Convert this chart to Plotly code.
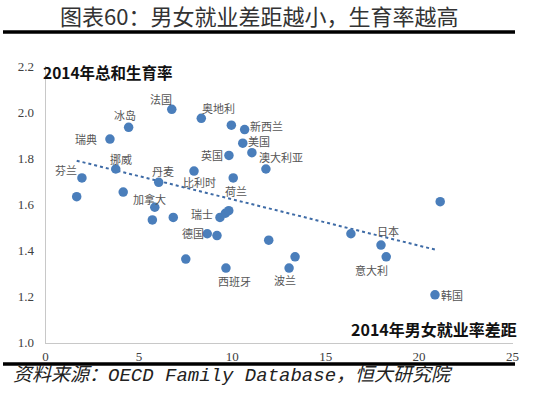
import plotly.graph_objects as go

W, H = 550, 397

# ---- data ----
gap = [6.76, 8.34, 4.45, 3.45, 9.95, 10.66, 10.56, 9.82, 11.05, 11.80,
       3.76, 1.95, 6.06, 7.95, 10.05, 1.67, 4.16, 5.85, 5.72, 6.84,
       9.34, 9.63, 9.81, 8.66, 9.18, 11.95, 7.51, 9.66,
       21.13, 16.35, 17.96, 18.24, 13.36, 13.04, 20.85]
tfr = [2.012, 1.973, 1.934, 1.883, 1.943, 1.924, 1.865, 1.812, 1.824, 1.753,
       1.753, 1.714, 1.695, 1.744, 1.714, 1.633, 1.653, 1.587, 1.532, 1.543,
       1.543, 1.561, 1.572, 1.472, 1.464, 1.444, 1.362, 1.323,
       1.611, 1.472, 1.423, 1.372, 1.372, 1.323, 1.207]
names = ["法国", "奥地利", "冰岛", "瑞典", "", "新西兰", "美国", "英国", "澳大利亚", "",
         "挪威", "芬兰", "丹麦", "比利时", "荷兰", "", "", "加拿大", "", "",
         "瑞士", "", "", "德国", "", "", "", "西班牙",
         "", "", "日本", "意大利", "", "波兰", "韩国"]
trend_x = [1.67, 20.96]
trend_y = [1.789, 1.401]
x_ticks = [0, 5, 10, 15, 20, 25]
y_ticks = [1.0, 1.2, 1.4, 1.6, 1.8, 2.0, 2.2]

# label offsets in pixels (dx right, dy down) relative to the point
label_offsets = {
    "法国": (-11, -10), "奥地利": (17, -10), "冰岛": (-4, -12), "瑞典": (-24, 0),
    "新西兰": (22, -4), "美国": (16, -2), "英国": (-17, 0), "澳大利亚": (29, 4),
    "挪威": (5, -10), "芬兰": (-16, -8), "丹麦": (4, -11), "比利时": (5, 11),
    "荷兰": (3, 13), "加拿大": (-5, -8), "瑞士": (-18, -3), "德国": (-14, -1),
    "西班牙": (9, 13), "日本": (7, -14), "意大利": (-15, 13), "波兰": (-4, 12),
    "韩国": (17, 0),
}

x0, x1 = 45.5, 512.5
y_top, y_bot = 66, 342.5

fig = go.Figure()
fig.add_trace(go.Scatter(
    x=trend_x, y=trend_y, mode="lines",
    line=dict(color="#3E6BA6", width=2, dash="dot"),
    hoverinfo="skip", showlegend=False))
fig.add_trace(go.Scatter(
    x=gap, y=tfr, mode="markers",
    marker=dict(color="#4A7EBB", size=9.5, line=dict(width=0)),
    showlegend=False))

ann = []
for xv, yv, nm in zip(gap, tfr, names):
    if not nm:
        continue
    dx, dy = label_offsets[nm]
    ann.append(dict(x=xv, y=yv, xref="x", yref="y", text=nm, showarrow=False,
                    xshift=dx, yshift=-dy,
                    font=dict(family="Noto Sans CJK SC", size=11, color="#555555")))

# titles / texts
ann.append(dict(x=259 / W, y=1 - 15 / H, xref="paper", yref="paper",
                text="图表60：男女就业差距越小，生育率越高", showarrow=False,
                xanchor="center", yanchor="middle",
                font=dict(family="Noto Sans CJK SC", size=22, color="#333333")))
ann.append(dict(x=41 / W, y=1 - 72 / H, xref="paper", yref="paper",
                text="<b>2014年总和生育率</b>", showarrow=False,
                xanchor="left", yanchor="middle",
                font=dict(family="Noto Sans CJK SC", size=15.5, color="#111111")))
ann.append(dict(x=519 / W, y=1 - 329 / H, xref="paper", yref="paper",
                text="<b>2014年男女就业率差距</b>", showarrow=False,
                xanchor="right", yanchor="middle",
                font=dict(family="Noto Sans CJK SC", size=16, color="#111111")))
ann.append(dict(x=11 / W, y=1 - 375 / H, xref="paper", yref="paper",
                text="资料来源：OECD Family Database，恒大研究院", showarrow=False,
                xanchor="left", yanchor="middle",
                font=dict(family="Liberation Mono, Noto Sans CJK SC", size=19,
                          color="#222222", style="italic")))

shapes = [
    dict(type="line", xref="paper", yref="paper", x0=3 / W, x1=515 / W,
         y0=1 - 32 / H, y1=1 - 32 / H, line=dict(color="#000000", width=3.5)),
    dict(type="line", xref="paper", yref="paper", x0=3 / W, x1=515 / W,
         y0=1 - 364 / H, y1=1 - 364 / H, line=dict(color="#000000", width=3.5)),
]

fig.update_layout(
    width=W, height=H,
    margin=dict(l=0, r=0, t=0, b=0, autoexpand=False),
    paper_bgcolor="white", plot_bgcolor="white",
    annotations=ann, shapes=shapes,
    xaxis=dict(domain=[x0 / W, x1 / W], range=[0, 25], tickvals=x_ticks,
               automargin=False,
               showgrid=False, zeroline=False, showline=True, linecolor="#C8C8C8",
               linewidth=1, ticks="", ticklabelstandoff=2,
               tickfont=dict(family="Liberation Serif", size=13, color="#404040")),
    yaxis=dict(domain=[1 - y_bot / H, 1 - y_top / H], range=[1.0, 2.2],
               tickvals=y_ticks, tickformat=".1f", automargin=False,
               showgrid=False, zeroline=False, showline=True, linecolor="#C8C8C8",
               linewidth=1, ticks="", ticklabelstandoff=8,
               tickfont=dict(family="Liberation Serif", size=13, color="#404040")),
)

fig.write_html("out.html",
               config={"displayModeBar": False},
               post_script="document.body.style.margin='0';document.body.style.overflow='hidden';")
